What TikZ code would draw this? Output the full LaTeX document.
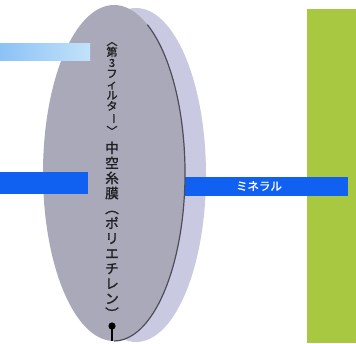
\documentclass[tikz,border=0pt]{standalone}
\usepackage{fontspec}
\usepackage{tikz}
\newfontfamily\jpfont[FakeBold=1.6]{Noto Sans CJK JP}
\definecolor{frontgray}{HTML}{A9A9BA}
\definecolor{backlav}{HTML}{C9C9E2}
\definecolor{edgegray}{HTML}{4E4E58}
\definecolor{barblue}{HTML}{1060F2}
\definecolor{skyleft}{HTML}{8CC2F6}
\definecolor{skyright}{HTML}{C2E2FA}
\definecolor{leafgreen}{HTML}{A9C841}
\definecolor{inkgray}{HTML}{202024}
\newcommand{\vr}[1]{\rotatebox[origin=c]{-90}{#1}}

\begin{document}
\begin{tikzpicture}[x=0.75pt,y=0.75pt,yscale=-1,xscale=1]
\useasboundingbox (0,0) rectangle (356,343);

%Shape: Rectangle [green wall]
\fill [leafgreen] (307,9) rectangle (356,343);
%Shape: Ellipse [back face]
\fill [backlav] (136,175) ellipse [x radius=70, y radius=167];
%Shape: Rectangle [outgoing bar]
\fill [barblue] (180,177) rectangle (348,196);
%Shape: Ellipse [front face]
\fill [frontgray] (114,173) ellipse [x radius=71, y radius=168];
%Curve Lines [front edge]
\draw [edgegray, line width=0.9] (114,173) ++(-62:71 and 168) arc [start angle=-62, end angle=90, x radius=71, y radius=168];
%Shape: Rectangle [light bar]
\shade [left color=skyleft, right color=skyright] (0,43) rectangle (90,60);
%Shape: Rectangle [incoming bar]
\fill [barblue] (0,172) rectangle (88,194);

%Shape: Circle [bottom dot]
\coordinate (dot) at (112,326);
\coordinate (dotend) at (112,341);
\draw [line width=0.8] (dot) -- (dotend);
\fill (dot) circle [radius=3.6];

% Text Node
\node (filter) [inner sep=0pt, align=center, text=inkgray, font={\jpfont\fontsize{8.3}{8.1}\selectfont}] at (112,86)
  {\vr{〈}\\第\\3\\フ\\ィ\\ル\\タ\\\vr{ー}\\\vr{〉}};
% Text Node
\node (membrane) [inner sep=0pt, align=center, text=inkgray, font={\jpfont\fontsize{10.2}{11.3}\selectfont}] at (112,231)
  {中\\空\\糸\\膜\\\vr{（}\\ポ\\リ\\エ\\チ\\レ\\ン\\\vr{）}};
% Text Node
\node (mineral) [inner sep=0pt, text=white, font={\jpfont\fontsize{8.6}{9}\selectfont}] at (259,186) {ミネラル};
\end{tikzpicture}
\end{document}
